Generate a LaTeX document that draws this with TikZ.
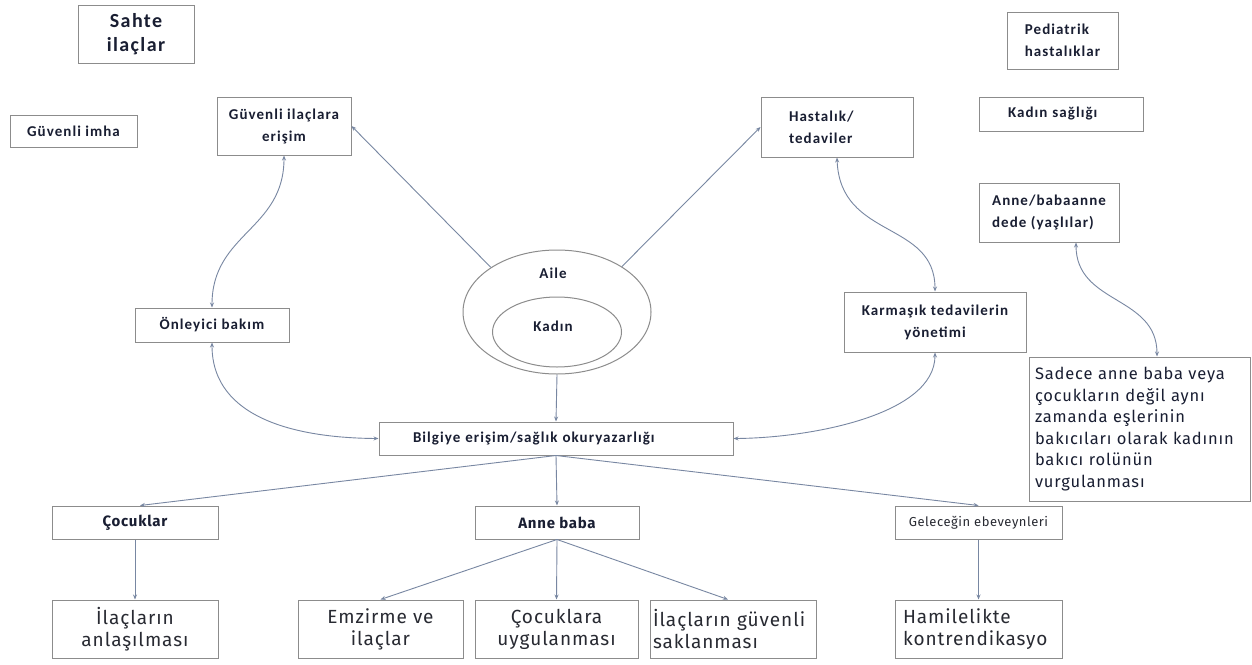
\documentclass[tikz,border=0pt]{standalone}
\usepackage{fontspec}
\setmainfont{Carlito}[LetterSpace=7]
\newfontfamily\din[LetterSpace=5]{Fira Sans}
\newfontfamily\dinsmall[LetterSpace=4]{Fira Sans}
\usetikzlibrary{shapes.geometric,arrows.meta}
\definecolor{boxgray}{RGB}{140,140,140}
\definecolor{conncol}{RGB}{120,135,162}
\definecolor{txt}{RGB}{25,30,50}
\definecolor{txtb}{RGB}{40,42,50}
\tikzset{
  box/.style={draw=boxgray, line width=1pt, inner sep=0pt, fill=white, text=txt},
  cal/.style={font=\fontsize{15}{22}\selectfont\bfseries},
  big/.style={font=\fontsize{20}{24}\selectfont\bfseries},
  dinb/.style={font=\din\fontsize{15}{18}\selectfont\bfseries},
  dinl/.style={font=\din\fontsize{19}{22}\selectfont, text=txtb},
  dins/.style={font=\din\fontsize{16.5}{21.5}\selectfont},
  dinsm/.style={font=\dinsmall\fontsize{13}{16}\selectfont, text=txtb},
  conn/.style={draw=conncol, line width=0.9pt},
  onetip/.style={conn, -{Stealth[length=5pt,width=4pt]}},
  twotip/.style={conn, {Stealth[length=5pt,width=4pt]}-{Stealth[length=5pt,width=4pt]}},
  oval/.style={ellipse, draw=boxgray, line width=1pt, inner sep=0pt}
}
\begin{document}
\begin{tikzpicture}[x=1pt,y=-1pt]
\useasboundingbox (0,0) rectangle (1252,664);
\fill[white] (0,0) rectangle (1252,664);

% top-left / top-right boxes
\node[box,big,minimum width=116,minimum height=58,align=center] (sahte) at (136,34) {Sahte\\ilaçlar};
\node[box,cal,minimum width=127,minimum height=32] (imha) at (73.5,131) {Güvenli imha};
\node[box,cal,minimum width=134,minimum height=58,align=center] (guv) at (284,126) {Güvenli ilaçlara\\erişim};
\node[box,cal,minimum width=152,minimum height=60,text width=96,align=left] (hast) at (837,127) {Hastalık/\\tedaviler};
\node[box,cal,minimum width=111,minimum height=57,align=left] (ped) at (1062.5,40.5) {Pediatrik\\hastalıklar};
\node[box,cal,minimum width=164,minimum height=34,text width=106,align=left] (kadsag) at (1061,114) {Kadın sağlığı};
\node[box,cal,minimum width=140,minimum height=59,align=left] (anneb) at (1049,212.5) {Anne/babaanne\\dede (yaşlılar)};
\node[box,cal,minimum width=154,minimum height=34] (onl) at (212,325) {Önleyici bakım};
\node[box,cal,minimum width=182,minimum height=60,align=center] (karm) at (935,322) {Karmaşık tedavilerin\\yönetimi};
\node[box,dins,minimum width=221,minimum height=144,text width=209,align=left] (sadece) at (1139.5,429)
  {Sadece anne baba veya\\çocukların değil aynı\\zamanda eşlerinin\\bakıcıları olarak kadının\\bakıcı rolünün\\vurgulanması};

% ellipses
\node[oval,minimum width=188,minimum height=124] (aile) at (557,312) {};
\node[oval,minimum width=129,minimum height=70] (kadin) at (557,332) {};
\node[cal,text=txt] (ailelbl) at (553,273) {Aile};
\node[cal,text=txt] (kadinlbl) at (553,326) {Kadın};

% central box
\node[box,cal,minimum width=354,minimum height=33,text width=286,align=left] (bilgi) at (556,438.5) {Bilgiye erişim/sağlık okuryazarlığı};

% second level
\node[box,dinb,minimum width=166,minimum height=33] (cocuk) at (135,522.5) {Çocuklar};
\node[box,dinb,minimum width=164,minimum height=33] (anne) at (557,522.5) {Anne baba};
\node[box,dinsm,minimum width=167,minimum height=33] (gel) at (978.5,522.5) {Geleceğin ebeveynleri};

% bottom row
\node[box,dinl,minimum width=166,minimum height=58,align=center] (ilac) at (135,629) {İlaçların\\anlaşılması};
\node[box,dinl,minimum width=165,minimum height=58,align=center] (emz) at (380.5,629) {Emzirme ve\\ilaçlar};
\node[box,dinl,minimum width=163,minimum height=58,align=center] (cocuk2) at (556.5,629) {Çocuklara\\uygulanması};
\node[box,dinl,minimum width=166,minimum height=58,text width=160,align=left] (sakla) at (733,629) {İlaçların güvenli\\saklanması};
\node[box,dinl,minimum width=167,minimum height=58,text width=151,align=left] (hamile) at (978.5,629) {Hamilelikte\\kontrendikasyo};

% straight connectors
\draw[onetip] (aile.146) -- (guv.east);
\draw[onetip] (aile.35) -- (hast.west);
\draw[onetip] (aile.south) -- (bilgi.north);
\draw[onetip] (bilgi.south) -- ([xshift=5pt]cocuk.north);
\draw[onetip] (bilgi.south) -- (anne.north);
\draw[onetip] (bilgi.south) -- (gel.north);
\draw[onetip] (cocuk.south) -- (ilac.north);
\draw[onetip] (anne.south) -- (emz.north);
\draw[onetip] (anne.south) -- (cocuk2.north);
\draw[onetip] (anne.south) -- ([xshift=-5pt]sakla.north);
\draw[onetip] (gel.south) -- (hamile.north);

% curved connectors
\draw[twotip] (guv.south) .. controls (284,230) and (212,233) .. (onl.north);
\draw[twotip] (onl.south) .. controls (212,420) and (300,438) .. (bilgi.west);
\draw[twotip] (hast.south) .. controls (840,240) and (935,220) .. (karm.north);
\draw[twotip] (karm.south) .. controls (935,415) and (810,438) .. (bilgi.east);
\draw[twotip] ([xshift=27pt]anneb.south) .. controls (1076,305) and (1157,295) .. ([xshift=17.5pt]sadece.north);
\end{tikzpicture}
\end{document}
